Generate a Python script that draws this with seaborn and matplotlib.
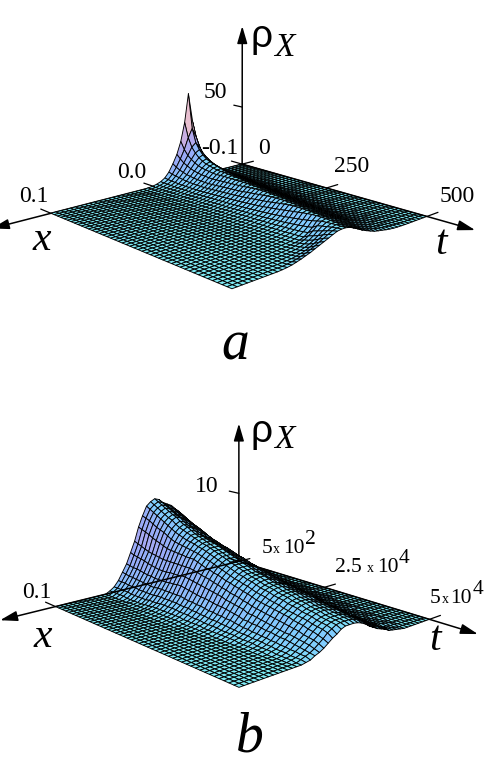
import numpy as np
import matplotlib
matplotlib.use("Agg")
import matplotlib.pyplot as plt
import seaborn as sns
from mpl_toolkits.mplot3d import proj3d

W, H = 486, 768
SERIF = "Liberation Serif"

# number of mesh lines each way, same for both panels
N_LINES = 46

# surface a, tenths of a unit, one row per t line. first value is x line 4, rest of row is 0
rows_a = [
    [1,3,7,15,28,45,90,180,300,460,700,470,320,220,150,90,50,28,15,7,3],
    [1,3,8,15,28,45,85,150,240,340,420,350,260,190,130,80,45,26,14,7,3],
    [1,3,8,16,28,45,80,130,190,260,310,280,220,165,115,75,42,25,14,7,3],
    [1,3,8,16,28,45,75,115,165,220,260,240,195,150,105,70,40,24,14,7,3],
    [1,3,9,17,28,45,70,105,150,195,225,210,175,135,95,65,38,23,14,7,3],
    [1,4,9,17,28,45,68,100,135,175,200,190,160,125,90,60,37,23,14,7,3],
    [1,4,9,17,28,45,65,95,125,160,185,175,150,118,85,58,36,23,14,8,3],
    [1,4,9,17,28,44,63,90,118,150,175,168,145,113,82,57,36,23,14,8,4],
    [1,4,9,17,28,43,61,85,112,142,165,160,140,110,80,56,36,23,14,8,4,1],
    [1,4,9,17,27,42,59,82,106,134,155,153,135,107,78,55,36,23,14,8,4,1],
    [1,4,9,16,26,40,57,78,101,127,146,150,133,106,78,55,36,23,15,9,4,2],
    [1,4,9,16,26,39,55,75,97,122,141,150,135,108,80,57,38,24,15,9,5,2],
    [1,4,9,16,25,38,53,72,93,117,136,146,136,110,82,59,40,25,16,10,5,2],
    [1,4,8,15,24,36,51,69,90,112,131,142,136,112,84,61,41,26,17,10,5,2,1],
    [1,3,8,15,23,35,49,66,86,108,127,140,136,114,87,63,43,28,18,11,6,3,1],
    [1,3,8,14,22,34,47,64,83,104,123,137,135,115,89,65,45,29,19,11,6,3,1],
    [1,3,7,14,22,32,45,61,80,100,119,133,136,117,91,67,46,30,19,12,7,3,1],
    [1,3,7,13,21,31,44,59,77,97,115,130,136,119,94,69,48,32,20,13,7,4,2],
    [0,2,6,13,20,30,42,57,74,93,112,127,135,121,96,72,50,33,21,13,8,4,2],
    [0,2,6,12,19,29,40,54,71,90,108,124,134,125,100,75,52,34,22,14,8,4,2,1],
    [0,2,6,12,18,28,39,52,69,87,105,121,132,128,104,78,54,36,23,15,9,5,2,1],
    [0,2,5,11,18,27,37,50,66,84,102,118,130,131,108,81,57,38,25,16,9,5,3,1],
    [0,2,5,11,17,26,36,48,63,81,99,115,127,133,112,85,60,40,26,17,10,6,3,1],
    [0,2,5,10,16,25,34,46,61,78,96,112,125,133,116,89,63,42,27,18,11,6,3,1],
    [0,2,5,10,16,24,33,45,59,75,93,109,123,132,120,93,66,44,29,19,11,7,4,2],
    [0,1,4,9,15,23,32,43,57,73,90,106,120,130,124,97,69,47,30,20,12,7,4,2],
    [0,1,4,9,14,22,30,41,55,70,87,103,118,128,127,101,73,49,32,21,13,8,4,2,1],
    [0,1,4,8,14,21,29,40,53,68,84,100,115,127,128,106,77,52,34,22,14,8,5,2,1],
    [0,1,4,8,13,20,28,38,51,65,81,97,112,124,129,112,82,55,36,23,15,9,5,3,1],
    [0,1,3,8,13,19,27,37,49,63,79,94,109,122,129,117,87,58,38,25,15,9,5,3,1],
    [0,1,3,7,12,19,26,35,47,61,76,91,106,119,128,122,92,62,41,26,16,10,6,3,1],
    [0,1,3,7,12,18,25,34,46,59,74,88,103,117,127,126,97,66,43,28,17,11,6,3,2],
    [0,1,3,7,11,17,24,33,44,57,72,86,100,114,125,129,103,70,46,30,18,11,7,4,2],
    [0,1,3,6,11,17,23,32,43,55,69,84,98,112,123,130,108,75,49,31,19,12,7,4,2,1],
    [0,1,2,6,10,16,22,30,41,53,67,81,95,109,121,129,113,80,53,34,21,13,8,4,2,1],
    [0,1,2,6,10,15,21,29,40,51,65,79,92,106,118,128,119,85,57,36,22,14,8,5,3,1],
    [0,1,2,5,10,15,21,28,38,49,63,76,90,104,116,127,124,91,61,39,24,15,9,5,3,1],
    [0,1,2,5,9,14,20,27,37,47,61,74,88,102,114,126,128,97,66,42,26,16,10,6,3,2],
    [0,1,2,5,9,14,20,27,36,46,59,72,86,100,112,124,130,104,71,46,28,17,10,6,4,2,1],
    [0,1,2,5,9,14,19,26,35,45,57,70,84,98,110,122,130,112,78,51,31,19,12,7,4,2,1],
    [0,1,2,4,8,13,19,25,34,44,55,68,82,96,108,120,129,122,100,74,50,32,20,12,7,3,1],
    [0,1,2,4,8,12,17,23,31,40,51,63,77,91,104,116,127,124,108,85,61,41,27,17,10,5,2],
    [0,0,1,4,7,11,16,21,28,37,47,58,72,87,100,113,125,127,115,96,74,54,37,25,16,9,5,2],
    [0,0,1,3,6,10,14,19,25,33,43,54,67,82,96,110,122,129,122,108,90,71,53,38,26,17,10,5,2],
    [0,0,1,3,5,8,12,17,23,30,39,49,62,77,92,106,119,129,127,118,104,88,72,57,43,31,21,13,7,3],
    [0,0,0,1,2,4,8,13,20,26,33,45,58,72,90,107,122,130,131,127,115,101,88,75,62,48,38,27,18,10,5,2],
]

# surface b, same idea, first value is x line 0
rows_b = [
    [0,5,10,15,20,25,30,35,40,45,50,56,62,69,75,82,89,95,101,104,107,112,114,111,106,94,80,62,48,34,24,14,7,3],
    [0,4,8,13,18,23,28,33,38,43,48,54,60,67,73,80,87,93,98,102,105,109,111,108,103,92,78,60,46,33,23,14,7,3],
    [0,3,7,11,16,21,26,31,36,41,46,52,58,65,71,78,84,90,95,99,102,106,108,105,100,90,76,58,45,32,22,14,7,3],
    [0,3,6,10,14,19,24,29,34,39,44,50,56,63,69,75,81,87,92,96,99,103,105,102,97,87,74,56,44,32,22,13,7,3],
    [0,2,5,9,13,17,22,27,32,37,42,48,54,60,66,72,78,84,89,93,96,100,102,99,94,84,71,54,43,31,21,13,7,3],
    [0,2,4,7,11,15,20,25,30,35,40,46,52,58,64,70,76,81,86,90,93,97,99,96,91,82,69,53,41,30,21,13,6,2],
    [0,1,3,6,10,14,18,23,28,33,38,44,50,56,62,68,74,79,84,88,91,95,97,94,88,80,67,52,40,29,20,12,6,2],
    [0,1,3,5,9,12,16,21,26,31,36,42,48,54,60,65,71,76,81,85,88,91,93,90,85,77,65,51,39,29,20,12,6,2,1],
    [0,1,2,5,8,11,15,19,24,29,34,40,46,51,57,63,68,74,79,82,85,88,90,87,82,74,63,50,38,28,19,12,6,2,1],
    [0,1,2,4,7,10,14,18,22,27,32,37,43,49,55,60,66,71,76,80,83,86,88,85,80,72,62,50,38,28,19,12,6,2,1],
    [0,0,2,4,6,9,13,16,20,25,30,35,41,46,52,58,63,69,74,77,80,83,85,83,78,71,62,50,38,28,20,12,7,3,1],
    [0,0,2,3,5,8,12,15,19,23,28,33,38,44,50,55,60,66,71,74,77,80,82,81,76,70,61,50,39,28,20,13,7,3,1],
    [0,0,1,3,5,7,11,14,18,22,27,32,38,43,49,54,60,65,70,73,76,79,80,79,75,69,61,50,39,29,20,13,7,4,2,1],
    [0,0,1,2,4,7,10,13,17,21,26,31,36,42,47,52,58,63,68,71,74,77,78,77,74,68,60,50,39,29,20,13,8,4,2,1],
    [0,0,0,2,4,6,9,12,16,20,25,30,35,40,46,51,56,61,66,69,72,75,76,75,72,67,60,50,40,30,20,13,8,4,2,1],
    [0,0,0,2,3,5,8,11,15,19,24,29,34,39,45,50,55,60,65,68,71,74,74,74,71,66,60,50,40,30,20,13,8,4,2,1],
    [0,0,0,2,3,5,8,11,14,18,22,27,32,38,43,48,53,58,63,66,69,72,72,72,69,64,58,49,39,29,20,13,8,4,2,1],
    [0,0,0,1,3,5,7,10,13,17,21,26,31,36,41,46,51,56,61,64,67,70,70,70,67,62,56,48,38,28,19,12,8,4,2,1],
    [0,0,0,1,3,4,7,9,13,16,20,25,30,35,40,45,50,55,59,62,65,68,68,68,65,61,54,46,37,27,18,12,7,4,2,1],
    [0,0,0,1,2,4,6,9,12,15,19,24,28,33,38,43,48,53,58,61,63,66,66,66,63,59,53,45,36,26,18,12,7,4,2,1],
    [0,0,0,1,2,4,6,8,11,15,18,23,27,32,37,42,47,51,56,59,61,64,64,64,61,57,51,44,35,25,17,11,7,3,2,1],
    [0,0,0,1,2,3,5,8,10,14,17,22,26,31,36,40,45,50,54,57,60,62,62,62,59,55,50,42,34,25,17,11,6,3,1],
    [0,0,0,1,2,3,5,7,10,13,16,21,25,30,34,39,44,48,53,55,58,60,60,60,57,53,48,41,33,24,16,10,6,3,1],
    [0,0,0,0,1,3,4,7,9,12,16,20,24,29,33,38,42,47,51,54,56,58,58,58,55,51,46,39,32,23,15,10,6,3,1],
    [0,0,0,0,1,3,4,6,9,11,15,19,23,27,32,36,41,45,49,52,54,56,56,56,53,49,45,38,31,22,15,9,5,3,1],
    [0,0,0,0,1,2,4,6,8,11,14,18,22,26,31,35,39,44,48,50,52,54,54,54,52,48,43,36,29,22,14,9,5,2,1],
    [0,0,0,0,1,2,3,5,8,10,13,17,21,25,30,34,38,42,46,49,51,53,53,52,50,46,42,35,28,21,14,9,5,2,1],
    [0,0,0,0,1,2,3,5,7,9,12,16,20,24,28,33,37,41,45,47,49,52,52,51,49,45,40,34,27,20,13,8,5,2,1],
    [0,0,0,0,0,2,3,4,6,9,12,15,19,23,27,31,35,39,43,46,48,50,50,49,47,43,39,32,26,19,13,8,4,2],
    [0,0,0,0,0,1,3,4,6,8,11,14,18,22,26,30,34,38,42,44,46,48,48,47,45,41,37,31,25,18,12,7,4,2],
    [0,0,0,0,0,1,2,3,5,7,9,12,16,20,24,29,33,37,41,44,46,47,47,46,44,40,35,29,22,16,11,7,4,2],
    [0,0,0,0,0,1,2,3,5,7,9,12,15,19,23,28,32,36,40,42,44,46,46,45,43,39,34,28,22,16,10,6,4,2],
    [0,0,0,0,0,1,2,3,4,6,8,11,15,18,22,27,31,35,39,41,43,44,44,43,41,37,33,27,21,15,10,6,3,2],
    [0,0,0,0,0,1,2,3,4,6,8,11,14,17,21,26,30,34,38,40,42,43,43,42,40,36,32,26,20,15,9,6,3,1],
    [0,0,0,0,0,1,1,2,4,5,7,10,13,17,20,25,29,33,37,39,41,42,42,41,39,35,31,25,19,14,9,5,3,1],
    [0,0,0,0,0,1,1,2,3,5,7,10,13,16,19,24,28,32,36,38,39,40,40,39,37,33,30,24,18,13,8,5,3,1],
    [0,0,0,0,0,0,1,2,3,5,6,9,12,15,18,23,27,31,34,36,38,39,39,38,36,32,29,23,17,13,8,5,2,1],
    [0,0,0,0,0,0,1,2,3,4,6,9,11,14,18,22,26,30,33,35,37,38,38,37,35,31,28,22,16,12,7,4,2,1],
    [0,0,0,0,0,0,1,2,3,4,5,8,10,13,17,21,25,29,32,34,35,36,36,35,33,30,26,21,15,11,7,4,2,1],
    [0,0,0,0,0,0,1,1,2,4,5,7,10,13,16,20,24,28,31,33,34,35,35,34,32,29,25,20,15,11,6,3,2],
    [0,0,0,0,0,0,1,1,2,3,5,7,9,12,15,19,23,27,30,32,33,34,34,33,31,28,24,19,14,10,6,3,1],
    [0,0,0,0,0,0,0,1,2,3,4,6,9,11,14,18,22,26,29,30,32,32,32,31,29,26,22,17,13,9,5,3,1],
    [0,0,0,0,0,0,0,1,2,3,4,6,8,11,14,17,21,25,28,30,31,31,31,30,28,25,21,16,12,8,5,2,1],
    [0,0,0,0,0,0,0,1,1,2,3,5,8,10,13,16,20,24,27,29,30,30,30,29,27,24,19,15,11,7,4,2,1],
    [0,0,0,0,0,0,0,0,1,2,3,5,7,10,12,15,19,23,26,28,29,29,29,28,25,22,17,13,9,6,4,2],
    [0,0,0,0,0,0,0,0,1,2,3,4,7,9,11,14,17,21,24,26,27,27,27,25,21,18,14,10,7,5,2,1],
]

x_ticks_a = [-0.1, 0.0, 0.1]
t_ticks_a = [0, 250, 500]
z_ticks_a = [50]
x_ticks_b = [-0.1, 0.1]
t_ticks_b = [500, 25000, 50000]
z_ticks_b = [10]

sns.set_theme(style="white")
plt.rcParams["font.family"] = [SERIF, "DejaVu Sans"]
slope_cmap = sns.blend_palette(["#7eeaf4", "#80ccff", "#98aaf8", "#bca8ea", "#e8bfd0"], as_cmap=True)


def heights(rows, start):
    z = np.zeros((N_LINES, N_LINES))
    for j, row in enumerate(rows):
        z[j, start:start + len(row)] = np.array(row) / 10
    return z


def cell_colors(z, z_top):
    # colour goes with how steep each cell is, in box units
    dz = z / z_top * (N_LINES - 1)
    sx = np.diff(dz, axis=1)[:-1, :]
    st = np.diff(dz, axis=0)[:, :-1]
    steep = np.hypot(sx, st)
    return slope_cmap(np.clip(np.log1p(steep) / np.log1p(7), 0, 1))


def draw_panel(fig, box, view, z, x_lim, t_lim, z_top, ticks, tips, tick_len, axis_on_top):
    ax = fig.add_axes([box[0] / W, box[1] / H, box[2] / W, box[2] / H], projection="3d", computed_zorder=False)
    ax.set_axis_off()
    ax.patch.set_alpha(0)
    ax.set_xlim(*x_lim)
    ax.set_ylim(*t_lim)
    ax.set_zlim(0, z_top)
    ax.set_box_aspect((view[0], 1, 1))
    ax.set_proj_type("persp", focal_length=view[1])
    ax.view_init(view[2], view[3])

    xs = np.linspace(x_lim[0], x_lim[1], N_LINES)
    ts = np.linspace(t_lim[0], t_lim[1], N_LINES)
    X, T = np.meshgrid(xs, ts)
    ax.plot_surface(X, T, z, rstride=1, cstride=1, facecolors=cell_colors(z, z_top), shade=False,
                    edgecolor="black", linewidth=0.65, zorder=2)

    x0, t0 = x_lim[0], t_lim[0]
    M = ax.get_proj()
    ends = [(tips[0], t0, 0), (x0, tips[1], 0), (x0, t0, tips[2])]
    for n, end in enumerate(ends):
        start = proj3d.proj_transform(x0, t0, 0, M)[:2]
        stop = proj3d.proj_transform(*end, M)[:2]
        # only panel b shows the x axis across the surface
        order = 3 if (axis_on_top or n > 0) else 1
        ax.annotate("", xy=stop, xytext=start, annotation_clip=False, zorder=order,
                    arrowprops=dict(arrowstyle="-|>,head_length=0.75,head_width=0.22", color="black",
                                    lw=1.1, shrinkA=0, shrinkB=0, mutation_scale=14))

    for v in ticks[0]:
        ax.plot([v, v], [t0, t0 - tick_len[0]], [0, 0], color="black", lw=0.9, zorder=3)
    for v in ticks[1]:
        ax.plot([x0, x0 - tick_len[1]], [v, v], [0, 0], color="black", lw=0.9, zorder=3)
    for v in ticks[2]:
        ax.plot([x0, x0], [t0, t0 - tick_len[2]], [v, v], color="black", lw=0.9, zorder=3)
    return ax


def label(x, y, s, size=17, **kw):
    kw.setdefault("ha", "center")
    kw.setdefault("va", "center")
    fig.text(x / W, 1 - y / H, s, fontsize=size, color="black", **kw)


def power(x, base, mant, exp):
    # mantissa, small x, 10 and exponent are placed one after the other
    x0, x1, x2, x3 = x
    label(x0, base, mant, size=15.5, ha="left", va="baseline")
    label(x1, base, "x", size=10, ha="left", va="baseline")
    label(x2, base, "10", size=15.5, ha="left", va="baseline")
    label(x3, base - 9, exp, size=15.5, ha="left", va="baseline")


fig = plt.figure(figsize=(W / 100, H / 100), dpi=100, facecolor="white")

draw_panel(fig, (2.3, 448, 459), (1.0, 0.4, 11, 46.5), heights(rows_a, 4), (-0.1, 0.1), (0, 500), 192,
           (x_ticks_a, t_ticks_a, z_ticks_a), (0.15, 605, 119), (35, 0.014, 27), False)
draw_panel(fig, (-0.9, 52.5, 467), (0.9, 0.4, 11, 48), heights(rows_b, 0), (-0.1, 0.1), (500, 50000), 34,
           (x_ticks_b, t_ticks_b, z_ticks_b), (0.15, 60000, 20), (3400, 0.014, 3000), True)

# panel a text
label(34, 196, "0.1")
label(132, 172, "0.0")
label(220, 148, "-0.1")
label(264, 148, "0")
label(352, 167, "250")
label(457, 196, "500")
label(215, 93, "50")
label(261, 37, "\u03c1", size=28, family="Liberation Sans")
label(284, 48, "X", size=24, style="italic")
label(42, 240, "x", size=30, style="italic")
label(441, 244, "t", size=30, style="italic")
label(235, 346, "a", size=40, style="italic")

# panel b text
label(37, 592, "0.1")
label(207, 487, "10")
power((262, 273, 283, 305), 553, "5", "2")
power((335, 367, 377, 399), 572, "2.5", "4")
power((430, 442, 450, 473), 603, "5", "4")
label(261, 432, "\u03c1", size=28, family="Liberation Sans")
label(284, 440, "X", size=24, style="italic")
label(43, 637, "x", size=30, style="italic")
label(435, 640, "t", size=30, style="italic")
label(250, 738, "b", size=40, style="italic")

fig.savefig("out.png", dpi=100)
